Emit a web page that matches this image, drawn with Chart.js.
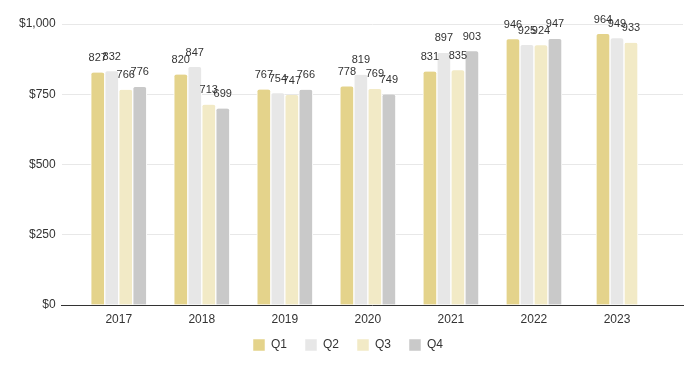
<!DOCTYPE html>
<html>
<head>
<meta charset="utf-8">
<script src="https://cdn.jsdelivr.net/npm/chart.js@4/dist/chart.umd.min.js"></script>
<style>
  html, body { margin: 0; padding: 0; background: #fff; }
</style>
</head>
<body>
<canvas id="chart" width="698" height="371"></canvas>
<script>
const years = ['2017', '2018', '2019', '2020', '2021', '2022', '2023']
const q1 = [827, 820, 767, 778, 831, 946, 964]
const q2 = [832, 847, 754, 819, 897, 925, 949]
const q3 = [766, 713, 747, 769, 835, 924, 933]
const q4 = [776, 699, 766, 749, 903, 947, null]
const yTicks = [0, 250, 500, 750, 1000]

const colors = ['#E4D38B', '#E7E7E7', '#F2EAC6', '#C9C9C9']
const font = '"Liberation Sans", Arial, sans-serif'

// draws the value above each bar
const valueLabels = {
    id: 'valueLabels',
    afterDatasetsDraw(chart) {
        const ctx = chart.ctx
        ctx.save()
        ctx.font = '11px ' + font
        ctx.fillStyle = '#333'
        ctx.textAlign = 'center'
        ctx.textBaseline = 'bottom'
        chart.data.datasets.forEach((ds, i) => {
            chart.getDatasetMeta(i).data.forEach((bar, j) => {
                const v = ds.data[j]
                if (v == null) return
                ctx.fillText(String(v), bar.x, bar.y - 9)
            })
        })
        ctx.restore()
    }
}

// pull the legend a bit closer to the axis
const legendShift = {
    id: 'legendShift',
    afterLayout(chart) {
        chart.legend.top -= 8
        chart.legend.bottom -= 8
    }
}

const series = [q1, q2, q3, q4]

new Chart(document.getElementById('chart'), {
    type: 'bar',
    data: {
        labels: years,
        datasets: series.map((d, i) => ({
            label: 'Q' + (i + 1),
            data: d,
            backgroundColor: colors[i],
            borderColor: '#fff',
            borderWidth: { left: 1, right: 1, top: 0, bottom: 0 },
            borderRadius: { topLeft: 3, topRight: 3 },
            borderSkipped: 'bottom',
            barThickness: 14,
            skipNull: true,
        })),
    },
    options: {
        responsive: false,
        animation: false,
        layout: { padding: { left: 13, right: 15, top: 24, bottom: 2 } },
        plugins: {
            legend: {
                position: 'bottom',
                labels: {
                    boxWidth: 12,
                    boxHeight: 12,
                    padding: 18,
                    color: '#333',
                    font: { family: font, size: 12 },
                },
            },
            tooltip: { enabled: false },
        },
        scales: {
            x: {
                grid: { display: false, drawTicks: false },
                border: { color: '#333', width: 1 },
                // category centres sit inside a wider plot area
                afterBuildTicks: (axis) => {
                    axis._startValue = -0.687
                    axis._valueRange = 7.482
                },
                afterFit: (axis) => { axis.height = 24 },
                ticks: {
                    color: '#333',
                    padding: 7,
                    font: { family: font, size: 12 },
                },
            },
            y: {
                min: 0,
                max: 1000,
                afterBuildTicks: (axis) => { axis.ticks = yTicks.map(v => ({ value: v })) },
                grid: { color: '#e8e8e8', drawTicks: false },
                border: { display: false },
                ticks: {
                    autoSkip: false,
                    color: '#333',
                    padding: 6,
                    font: { family: font, size: 12 },
                    callback: (v) => '$' + v.toLocaleString('en-US'),
                },
            },
        },
    },
    plugins: [valueLabels, legendShift],
})
</script>
</body>
</html>
